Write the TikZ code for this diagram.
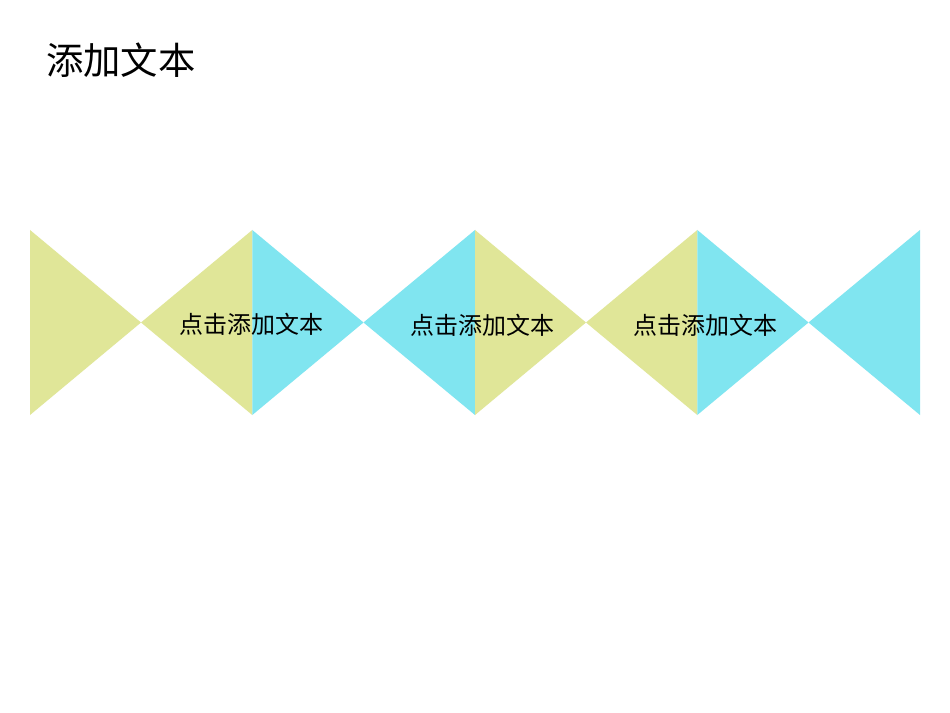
\documentclass[tikz,border=0pt]{standalone}
\usepackage{fontspec}
\newfontfamily\cjk{Noto Sans CJK SC}
\definecolor{triY}{HTML}{E0E698}
\definecolor{triC}{HTML}{80E5F0}
\tikzset{
  yel/.style={fill=triY,draw=none},
  cya/.style={fill=triC,draw=none},
  lbl/.style={font=\cjk\fontsize{18pt}{20pt}\selectfont,text=black,inner sep=0pt},
  ttl/.style={font=\cjk\fontsize{28pt}{30pt}\selectfont,text=black,inner sep=0pt,anchor=west}
}
\begin{document}
\begin{tikzpicture}[x=0.75pt,y=-0.75pt]
\useasboundingbox (0,0) rectangle (950,713);
\fill[white] (0,0) rectangle (950,713);
% triangles
\path[yel] (30,230) -- (141,322.5) -- (30,415) -- cycle;
\path[yel] (141,322.5) -- (252.3,230) -- (252.3,415) -- cycle;
\path[cya] (252.3,230) -- (363.5,322.5) -- (252.3,415) -- cycle;
\path[cya] (363.5,322.5) -- (475,230) -- (475,415) -- cycle;
\path[yel] (475,230) -- (586,322.5) -- (475,415) -- cycle;
\path[yel] (586,322.5) -- (697.3,230) -- (697.3,415) -- cycle;
\path[cya] (697.3,230) -- (808.5,322.5) -- (697.3,415) -- cycle;
\path[cya] (808.5,322.5) -- (920,230) -- (920,415) -- cycle;
% texts
\node[ttl] (title) at (46,60) {添加文本};
\node[lbl] (t1) at (251.5,324) {点击添加文本};
\node[lbl] (t2) at (482,325) {点击添加文本};
\node[lbl] (t3) at (705,325) {点击添加文本};
\end{tikzpicture}
\end{document}
